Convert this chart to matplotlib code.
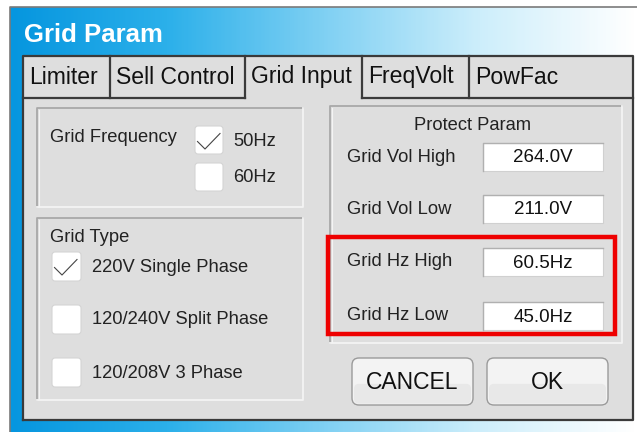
import numpy as np
import matplotlib
matplotlib.use("Agg")
import matplotlib.pyplot as plt
from matplotlib.patches import Rectangle, FancyBboxPatch
from matplotlib.colors import LinearSegmentedColormap

# === CONTENT ===
TITLE = "Grid Param"
TABS = ["Limiter", "Sell Control", "Grid Input", "FreqVolt", "PowFac"]
TAB_EDGES = [23, 110, 245, 362, 469, 633]
ACTIVE_TAB = 2
FREQ_OPTIONS = ["50Hz", "60Hz"]
FREQ_CHECKED = [True, False]
TYPE_OPTIONS = ["220V Single Phase", "120/240V Split Phase", "120/208V 3 Phase"]
TYPE_CHECKED = [True, False, False]
PROTECT_LABELS = ["Grid Vol High", "Grid Vol Low", "Grid Hz High", "Grid Hz Low"]
PROTECT_VALUES = ["264.0V", "211.0V", "60.5Hz", "45.0Hz"]
BUTTONS = ["CANCEL", "OK"]

plt.rcParams['font.family'] = ['Liberation Sans', 'DejaVu Sans']

W, H = 637, 432
fig = plt.figure(figsize=(W / 100, H / 100), dpi=100)
ax = fig.add_axes([0, 0, 1, 1])
ax.set_xlim(0, W)
ax.set_ylim(H, 0)
ax.axis("off")

LBL = 13.2
TXT = "#222222"

# === FRAME (blue gradient) ===
cmap = LinearSegmentedColormap.from_list(
    "frame", ["#0696df", "#2cb0ea", "#7fd0f3", "#cdeefb", "#ffffff"])
grad = np.linspace(0, 1, 300).reshape(1, -1)
ax.imshow(grad, cmap=cmap, extent=(10, W, H, 7), aspect="auto", zorder=0)
ax.plot([10, 10, W], [H, 7, 7], color="#7a7a7a", lw=1.2, zorder=1)
ax.text(24, 35, TITLE, color="white", fontsize=18.5, fontweight="bold",
        va="center", ha="left", zorder=3)

# === PANEL ===
PANEL_L, PANEL_R, TAB_T, TAB_B, PANEL_B = 23, 633, 56, 98, 420
ax.add_patch(Rectangle((PANEL_L, TAB_T), PANEL_R - PANEL_L, PANEL_B - TAB_T,
                       facecolor="#dedede", edgecolor="none", zorder=1))
dark = "#3a3a3a"
ax.plot([PANEL_L, PANEL_L, PANEL_R, PANEL_R, PANEL_L],
        [PANEL_B, TAB_T, TAB_T, PANEL_B, PANEL_B], color=dark, lw=1.6, zorder=4)
for x in TAB_EDGES[1:-1]:
    ax.plot([x, x], [TAB_T, TAB_B], color=dark, lw=1.6, zorder=4)
ax.plot([PANEL_L, TAB_EDGES[ACTIVE_TAB]], [TAB_B, TAB_B], color=dark, lw=1.6, zorder=4)
ax.plot([TAB_EDGES[ACTIVE_TAB + 1], PANEL_R], [TAB_B, TAB_B], color=dark, lw=1.6, zorder=4)
for i, name in enumerate(TABS):
    ax.text(TAB_EDGES[i] + 6, 77, name, fontsize=16.6, color="#111111",
            va="center", ha="left", zorder=5)


def group_box(x0, y0, x1, y1):
    ax.plot([x0, x0, x1], [y1, y0, y0], color="#a8a8a8", lw=1.3, zorder=2)
    ax.plot([x0, x1, x1], [y1, y1, y0], color="#f4f4f4", lw=1.3, zorder=2)
    ax.plot([x0 + 1.5, x0 + 1.5], [y0 + 1.5, y1 - 1], color="#f4f4f4", lw=0.8, zorder=2)


def check_box(x0, y0, size, checked):
    ax.add_patch(FancyBboxPatch((x0, y0), size, size,
                                boxstyle="round,pad=0,rounding_size=3",
                                facecolor="white", edgecolor="#d4d4d4", lw=0.8, zorder=3))
    if checked:
        ax.plot([x0 + 2.5, x0 + 10, x0 + 25],
                [y0 + 15.5, y0 + 23, y0 + 7.5],
                color="#444444", lw=0.8, zorder=4)


# Grid Frequency group
group_box(37, 108, 303, 207)
ax.text(50, 138, "Grid Frequency", fontsize=LBL, color=TXT, va="center", zorder=5)
for i, (opt, chk) in enumerate(zip(FREQ_OPTIONS, FREQ_CHECKED)):
    y0 = 126 + i * 37
    check_box(195, y0, 28, chk)
    ax.text(233, y0 + 15, opt, fontsize=LBL, color=TXT, va="center", zorder=5)

# Grid Type group
group_box(37, 218, 303, 400)
ax.text(50, 237, "Grid Type", fontsize=LBL, color=TXT, va="center", zorder=5)
for i, (opt, chk) in enumerate(zip(TYPE_OPTIONS, TYPE_CHECKED)):
    y0 = 252 + i * 53
    check_box(52, y0, 29, chk)
    ax.text(92, y0 + 15, opt, fontsize=LBL, color=TXT, va="center", zorder=5)

# Protect Param group
group_box(330, 106, 622, 343)
ax.text(473, 125, "Protect Param", fontsize=LBL, color=TXT, va="center",
        ha="center", zorder=5)
row_y = [157, 209, 262, 316]
for lab, val, yc in zip(PROTECT_LABELS, PROTECT_VALUES, row_y):
    ax.text(347, yc, lab, fontsize=LBL, color=TXT, va="center", zorder=5)
    ax.add_patch(Rectangle((483, yc - 14), 120, 28, facecolor="white",
                           edgecolor="#d0d0d0", lw=0.8, zorder=3))
    ax.plot([483, 483, 603], [yc + 14, yc - 14, yc - 14], color="#b0b0b0", lw=1.0, zorder=4)
    ax.text(543, yc + 1, val, fontsize=13.5, color="#111111", va="center",
            ha="center", zorder=5)

# highlight
ax.add_patch(Rectangle((328, 237), 287, 97, facecolor="none",
                       edgecolor="#ee0000", lw=3.2, zorder=6))

# buttons
for lab, x0 in zip(BUTTONS, [352, 487]):
    bw, bh, by = 121, 47, 358
    ax.add_patch(FancyBboxPatch((x0, by), bw, bh,
                                boxstyle="round,pad=0,rounding_size=7",
                                facecolor="#f3f3f3", edgecolor="#9a9a9a", lw=1.0, zorder=3))
    ax.add_patch(FancyBboxPatch((x0 + 2, by + bh * 0.55), bw - 4, bh * 0.42,
                                boxstyle="round,pad=0,rounding_size=5",
                                facecolor="#e8e8e8", edgecolor="none", zorder=3))
    ax.text(x0 + bw / 2, by + bh / 2 + 1, lab, fontsize=16.5, color="#111111",
            va="center", ha="center", zorder=5)

fig.savefig("out.png", dpi=100)
